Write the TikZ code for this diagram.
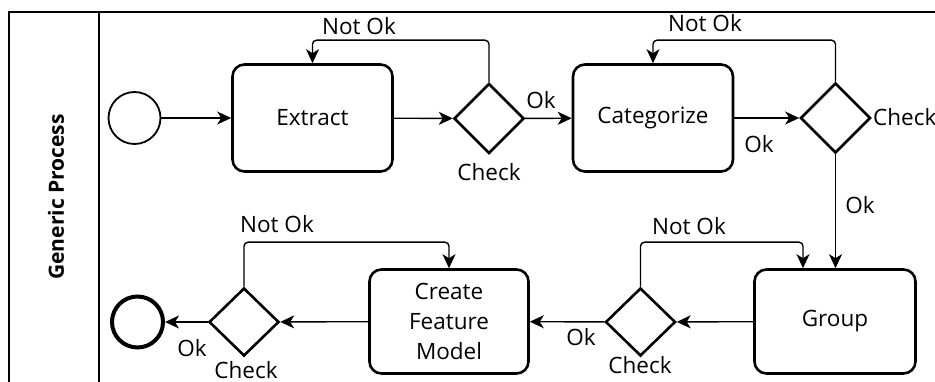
\documentclass[tikz,border=0pt]{standalone}
\usepackage{fontspec}
\setmainfont{Open Sans}
\usetikzlibrary{arrows.meta,shapes.geometric}
\begin{document}
\begin{tikzpicture}[x=1pt,y=-1pt,
  txt/.style={font=\fontsize{22.5}{30}\selectfont},
  task/.style={draw, line width=2.6pt, rounded corners=12pt, align=center, txt,
    minimum width=160pt, minimum height=107pt, inner sep=2pt},
  gate/.style={draw, line width=2.6pt, diamond, minimum width=70pt,
    minimum height=70pt, inner sep=0pt},
  flow/.style={line width=1.4pt, -{Stealth[length=14pt,width=13pt,inset=4pt]}},
  lbl/.style={txt, inner sep=0pt}]
\useasboundingbox (0,0) rectangle (935,382);

% pool frame and lane header
\draw[line width=1.3pt] (9,382) -- (9,12) -- (935,12);
\draw[line width=1.3pt] (99,12) -- (99,382);
\node[lbl, font=\fontsize{21}{25}\selectfont\bfseries, rotate=90] (lane) at (56,197) {Generic Process};

% events, tasks and gateways
\node[draw, circle, line width=1.8pt, minimum size=52pt] (start) at (134.5,118) {};
\node[task] (extract) at (312.5,118) {Extract};
\node[gate] (g1) at (489,118.5) {};
\node[task] (categorize) at (653,118) {Categorize};
\node[gate] (g2) at (835.5,118) {};
\node[task, minimum width=161pt, minimum height=104pt] (group) at (835,321.5) {Group};
\node[gate, minimum height=68pt] (g3) at (640.5,322) {};
\node[task, minimum width=159pt, minimum height=104pt] (cfm) at (449,321.5) {Create\\Feature\\Model};
\node[gate, minimum height=68pt] (g4) at (244,322) {};
\node[draw, circle, line width=4pt, minimum size=51pt] (end) at (137.5,322) {};

% sequence flows
\draw[flow] (start) -- (extract);
\draw[flow] (extract) -- (g1);
\draw[flow] (g1) -- (categorize);
\draw[flow] (categorize) -- (g2);
\draw[flow] (g2.south) -- (g2.south |- group.north);
\draw[flow] (group) -- (g3);
\draw[flow] (g3) -- (cfm);
\draw[flow] (cfm) -- (g4);
\draw[flow] (g4) -- (end);

% rework loops
\draw[flow, rounded corners=4pt] (g1.north) |- ([yshift=23pt]extract.north) -- (extract.north);
\draw[flow, rounded corners=4pt] (g2.north) |- ([yshift=23pt]categorize.north) -- (categorize.north);
\draw[flow, rounded corners=4pt] (g3.north) |- ([xshift=-32pt,yshift=26pt]group.north) -- ([xshift=-32pt]group.north);
\draw[flow, rounded corners=4pt] (g4.north) |- ([yshift=26pt]cfm.north) -- (cfm.north);

% flow labels
\node[lbl] (nok1) at (359,26) {Not Ok};
\node[lbl] (nok2) at (705,23) {Not Ok};
\node[lbl] (nok3) at (689,226) {Not Ok};
\node[lbl] (nok4) at (277,224) {Not Ok};
\node[lbl] (ok1) at (541,100) {Ok};
\node[lbl] (ok2) at (759,144) {Ok};
\node[lbl] (ok3) at (860,205) {Ok};
\node[lbl] (ok4) at (581,337) {Ok};
\node[lbl] (ok5) at (192,348) {Ok};
\node[lbl] (chk1) at (489,172) {Check};
\node[lbl, anchor=west] (chk2) at (873,117) {Check};
\node[lbl] (chk3) at (640,365) {Check};
\node[lbl] (chk4) at (246,370) {Check};
\end{tikzpicture}
\end{document}
